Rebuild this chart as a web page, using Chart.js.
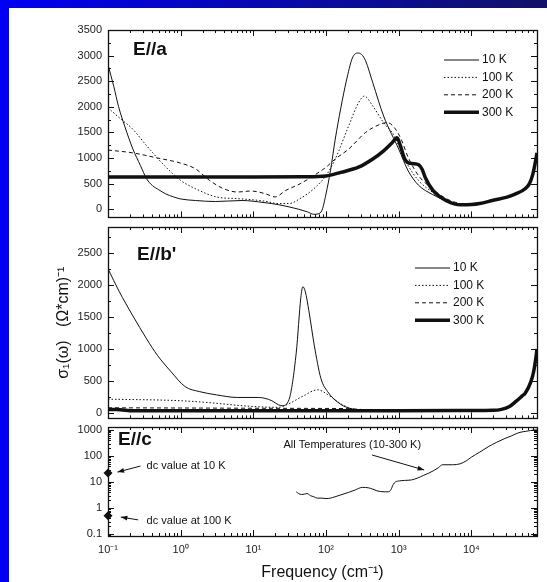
<!DOCTYPE html>
<html lang="en">
<head>
<meta charset="UTF-8">
<title>Optical conductivity</title>
<script src="https://cdn.jsdelivr.net/npm/chart.js"></script>
<style>
  body { margin: 0; width: 547px; height: 582px; background: #fff; position: relative; overflow: hidden; }
  canvas { position: absolute; left: 0; }
  #topbar { position: absolute; left: 0; top: 0; width: 547px; height: 8px; background: linear-gradient(to right, #0000f4, #121268); z-index: 2; }
  #leftbar { position: absolute; left: 0; top: 0; width: 9px; height: 582px; background: #0000f4; z-index: 2; }
</style>
</head>
<body>
<canvas id="panelA" width="547" height="230" style="top:0"></canvas>
<canvas id="panelB" width="547" height="229" style="top:202px"></canvas>
<canvas id="panelC" width="547" height="180" style="top:402px"></canvas>
<div id="topbar"></div>
<div id="leftbar"></div>

<script>
// ---- E//a ----
const freqA10 = [0.1, 0.12, 0.14, 0.17, 0.22, 0.28, 0.34, 0.41, 0.5, 0.62, 0.8, 1.0, 1.6, 3, 7, 14, 22, 30, 42, 55, 68, 78, 88, 100, 115, 134, 160, 190, 230, 270, 310, 350, 440, 620, 1000, 1350, 1870, 2900, 5000, 8000, 13000, 20000, 30000, 40000, 55000, 63000, 70000, 75000, 80000];
const sigA10 = [2820, 2400, 2000, 1620, 1175, 850, 594, 460, 380, 300, 240, 200, 170, 150, 170, 130, 90, 50, 0, -50, -100, -90, -20, 300, 750, 1370, 1980, 2500, 2950, 3050, 3020, 2900, 2470, 1820, 1175, 750, 470, 290, 140, 85, 110, 175, 230, 295, 400, 500, 680, 880, 1100];
const freqA100 = [0.1, 0.142, 0.22, 0.34, 0.6, 1, 1.6, 3.1, 6, 9.3, 14.6, 22, 31, 44, 68, 100, 134, 205, 280, 337, 440, 620, 870, 1000, 1350, 1870, 2900, 4500, 7000, 10000, 13000, 20000, 30000, 40000, 55000, 63000, 70000, 75000, 80000];
const sigA100 = [1980, 1790, 1560, 1240, 850, 562, 400, 240, 207, 187, 155, 110, 110, 207, 400, 658, 980, 1627, 2079, 2208, 2014, 1691, 1433, 1240, 852, 562, 336, 174, 100, 90, 110, 175, 230, 295, 400, 500, 680, 880, 1100];
const freqA200 = [0.1, 0.22, 0.48, 1, 1.6, 2.5, 3.9, 6, 9.3, 14.6, 20, 28, 44, 68, 100, 134, 205, 350, 560, 700, 870, 1080, 1350, 1870, 2900, 4500, 7000, 10000, 13000, 20000, 30000, 40000, 55000, 63000, 70000, 75000, 80000];
const sigA200 = [1155, 1100, 1000, 900, 788, 562, 400, 336, 355, 303, 240, 368, 497, 658, 820, 981, 1175, 1498, 1660, 1691, 1595, 1369, 1013, 658, 400, 207, 110, 90, 110, 175, 230, 295, 400, 500, 680, 880, 1100];
const freqA300 = [0.1, 1, 10, 50, 100, 160, 280, 440, 620, 800, 950, 1050, 1200, 1380, 1600, 1880, 2100, 2320, 3000, 4600, 7100, 10000, 13000, 20000, 30000, 40000, 55000, 63000, 70000, 75000, 80000];
const sigA300 = [630, 630, 630, 635, 650, 720, 820, 980, 1140, 1290, 1395, 1250, 990, 900, 890, 870, 780, 620, 356, 161, 85, 90, 110, 175, 230, 295, 400, 500, 680, 880, 1100];

// ---- E//b' ----
const freqB10 = [0.1, 0.142, 0.22, 0.34, 0.48, 0.74, 1.15, 1.8, 3.1, 6, 11.7, 18, 22, 25, 31, 39, 45, 48, 52, 58, 69, 85, 105, 150, 205, 350, 1000, 10000, 20000, 26000, 33000, 41000, 50000, 55000, 66000, 72000, 78000, 80000];
const sigB10 = [2250, 1900, 1516, 1158, 900, 645, 415, 338, 287, 246, 246, 195, 133, 118, 215, 953, 1800, 1970, 1890, 1600, 1055, 543, 338, 159, 82, 45, 40, 40, 45, 60, 100, 184, 270, 312, 492, 650, 900, 1000];
const freqB100 = [0.1, 1, 2.5, 7.5, 22, 31, 48, 77, 105, 165, 280, 1000, 10000, 20000, 26000, 33000, 41000, 50000, 55000, 66000, 72000, 78000, 80000];
const sigB100 = [220, 195, 165, 115, 92, 150, 266, 365, 292, 138, 45, 40, 40, 45, 60, 100, 184, 270, 312, 492, 650, 900, 1000];
const freqB200 = [0.1, 1, 10, 100, 200, 300, 500, 1000, 10000, 20000, 26000, 33000, 41000, 50000, 55000, 66000, 72000, 78000, 80000];
const sigB200 = [85, 82, 78, 75, 72, 60, 45, 40, 40, 45, 60, 100, 184, 270, 312, 492, 650, 900, 1000];
const freqB300 = [0.1, 0.13, 0.16, 0.2, 1, 10, 100, 1000, 10000, 20000, 26000, 33000, 41000, 50000, 55000, 66000, 72000, 78000, 80000];
const sigB300 = [60, 60, 50, 40, 40, 40, 40, 40, 42, 45, 60, 100, 184, 270, 312, 492, 650, 900, 1000];

// ---- E//c ----
const freqC = [39, 42, 46, 50, 55, 61, 68, 76, 88, 100, 115, 133, 160, 205, 250, 317, 380, 440, 500, 560, 640, 720, 780, 840, 900, 1020, 1200, 1500, 1800, 2200, 2600, 3000, 3500, 4000, 5500, 7000, 8500, 10000, 13000, 17000, 22000, 29000, 36000, 45000, 55000, 65000, 75000, 80000];
const sigC = [4.2, 3.6, 3.3, 3.4, 3.6, 3.0, 2.7, 2.4, 2.4, 2.3, 2.4, 2.7, 3.2, 4.0, 4.9, 6.2, 6.0, 5.3, 4.6, 4.3, 4.2, 4.2, 5.0, 8.0, 10, 11, 11.5, 12, 14, 18, 22, 27, 35, 46, 46, 50, 65, 90, 140, 225, 330, 473, 600, 790, 880, 950, 1000, 1000];
const dcFreq = [0.1, 0.1];
const dcSigma = [22, 0.5];

// axis ticks
const freqTicks = [0.1, 1, 10, 100, 1000, 10000];
const ticksA = [0, 500, 1000, 1500, 2000, 2500, 3000, 3500];
const ticksB = [0, 500, 1000, 1500, 2000, 2500];
const ticksC = [0.1, 1, 10, 100, 1000];
const temps = ['10 K', '100 K', '200 K', '300 K'];

const ink = '#111';
const FONT = "'Liberation Sans', Arial, Helvetica, sans-serif";
Chart.defaults.font.family = FONT;
Chart.defaults.color = '#222';

const lineLook = [
  { borderWidth: 1, borderDash: [] },
  { borderWidth: 1, borderDash: [1.5, 2] },
  { borderWidth: 1, borderDash: [4, 3] },
  { borderWidth: 3.5, borderDash: [] }
];

function pairs(xs, ys) {
  return xs.map((x, i) => ({ x: x, y: ys[i] }));
}

function series(i, xs, ys) {
  return Object.assign({
    label: temps[i],
    data: pairs(xs, ys),
    borderColor: ink,
    backgroundColor: ink,
    pointRadius: 0,
    fill: false,
    cubicInterpolationMode: 'monotone'
  }, lineLook[i]);
}

const SUP = { '-': '\u207B', '0': '\u2070', '1': '\u00B9', '2': '\u00B2', '3': '\u00B3', '4': '\u2074', '5': '\u2075' };
function powerLabel(v) {
  const e = Math.round(Math.log10(v));
  return '10' + String(e).split('').map(c => SUP[c]).join('');
}

function logSteps(min, max) {
  const major = [], minor = [];
  for (let e = Math.floor(Math.log10(min)); e <= Math.ceil(Math.log10(max)); e++) {
    for (let m = 1; m < 10; m++) {
      const v = m * Math.pow(10, e);
      if (v < min * 0.9999 || v > max * 1.0001) continue;
      (m === 1 ? major : minor).push(v);
    }
  }
  return { major, minor };
}

// closed frame with inward ticks on all four sides
const boxTicks = {
  id: 'boxTicks',
  afterDraw(chart, args, opts) {
    const { ctx, chartArea: a } = chart;
    const xs = chart.scales.x, ys = chart.scales.y;
    ctx.save();
    ctx.strokeStyle = ink;
    ctx.lineWidth = 1;
    ctx.beginPath();
    const xt = logSteps(xs.min, xs.max);
    const xTick = len => v => {
      const p = Math.round(xs.getPixelForValue(v)) + 0.5;
      ctx.moveTo(p, a.bottom); ctx.lineTo(p, a.bottom - len);
      ctx.moveTo(p, a.top); ctx.lineTo(p, a.top + len);
    };
    xt.major.forEach(xTick(6));
    xt.minor.forEach(xTick(3));
    let yt;
    if (ys.type === 'logarithmic') {
      yt = logSteps(ys.min, ys.max);
    } else {
      const step = opts.step;
      yt = { major: [], minor: [] };
      for (let v = Math.ceil(ys.min / step) * step; v <= ys.max; v += step) {
        (v % (2 * step) === 0 ? yt.major : yt.minor).push(v);
      }
    }
    const yTick = len => v => {
      const p = Math.round(ys.getPixelForValue(v)) + 0.5;
      ctx.moveTo(a.left, p); ctx.lineTo(a.left + len, p);
      ctx.moveTo(a.right, p); ctx.lineTo(a.right - len, p);
    };
    yt.major.forEach(yTick(6));
    yt.minor.forEach(yTick(3));
    ctx.stroke();
    ctx.lineWidth = 1.3;
    ctx.strokeRect(Math.round(a.left) + 0.5, Math.round(a.top) + 0.5, Math.round(a.width), Math.round(a.height));
    ctx.restore();
  }
};

function drawArrow(ctx, x0, y0, x1, y1) {
  const ang = Math.atan2(y1 - y0, x1 - x0);
  ctx.beginPath();
  ctx.moveTo(x0, y0);
  ctx.lineTo(x1, y1);
  ctx.stroke();
  ctx.beginPath();
  ctx.moveTo(x1, y1);
  ctx.lineTo(x1 - 7 * Math.cos(ang - 0.35), y1 - 7 * Math.sin(ang - 0.35));
  ctx.lineTo(x1 - 7 * Math.cos(ang + 0.35), y1 - 7 * Math.sin(ang + 0.35));
  ctx.closePath();
  ctx.fill();
}

// panel name, temperature key, notes and arrows
const decor = {
  id: 'decor',
  afterDraw(chart, args, opts) {
    const ctx = chart.ctx;
    const xs = chart.scales.x, ys = chart.scales.y;
    ctx.save();
    ctx.fillStyle = ink;
    ctx.strokeStyle = ink;
    if (opts.name) {
      ctx.font = 'bold 19px ' + FONT;
      ctx.textBaseline = 'middle';
      ctx.textAlign = 'left';
      ctx.fillText(opts.name.text, opts.name.x, opts.name.y);
    }
    if (opts.key) {
      const k = opts.key;
      ctx.font = '12px ' + FONT;
      ctx.textBaseline = 'middle';
      chart.data.datasets.forEach((ds, i) => {
        if (!ds.label) return;
        const y = k.y + i * k.dy;
        ctx.save();
        ctx.lineWidth = ds.borderWidth;
        ctx.setLineDash(ds.borderDash || []);
        ctx.beginPath();
        ctx.moveTo(k.x, y);
        ctx.lineTo(k.x + k.len, y);
        ctx.stroke();
        ctx.restore();
        ctx.fillText(ds.label, k.x + k.len + 3, y);
      });
    }
    if (opts.notes) {
      ctx.font = '11px ' + FONT;
      ctx.textBaseline = 'middle';
      opts.notes.forEach(n => {
        ctx.fillText(n.text, xs.getPixelForValue(n.x), ys.getPixelForValue(n.y));
      });
    }
    if (opts.arrows) {
      ctx.lineWidth = 1;
      opts.arrows.forEach(r => {
        drawArrow(ctx,
          xs.getPixelForValue(r.from[0]), ys.getPixelForValue(r.from[1]),
          xs.getPixelForValue(r.to[0]), ys.getPixelForValue(r.to[1]));
      });
    }
    ctx.restore();
  }
};

function freqAxis(show) {
  return {
    type: 'logarithmic',
    min: 0.1,
    max: 80000,
    bounds: 'data',
    display: show,
    grid: { display: false, drawTicks: false },
    border: { display: false },
    afterBuildTicks: s => { s.ticks = freqTicks.map(v => ({ value: v })); },
    afterFit: s => { s.height = show ? 46 : 0; },
    ticks: { callback: v => powerLabel(v), font: { size: 11 }, padding: 7, maxRotation: 0, autoSkip: false },
    title: { display: show, text: 'Frequency (cm\u207B\u00B9)', font: { size: 16 }, color: '#111', padding: { top: 0, bottom: 0 } }
  };
}

function sigmaAxis(type, min, max, ticks, title) {
  return {
    type: type,
    min: min,
    max: max,
    bounds: 'data',
    grid: { display: false, drawTicks: false },
    border: { display: false },
    afterBuildTicks: s => { s.ticks = ticks.map(v => ({ value: v })); },
    afterFit: s => { s.width = 98; },
    ticks: { callback: v => String(v), font: { size: 11 }, padding: 6, autoSkip: false },
    title: title ? { display: true, text: title, font: { size: 16 }, color: '#111', padding: { top: 44, bottom: 0 } } : { display: false }
  };
}

function panelOptions(padTop, padBottom, xShow, yAxis, tickStep, decorOpts) {
  return {
    responsive: false,
    animation: false,
    layout: { autoPadding: false, padding: { left: 10, right: 10, top: padTop, bottom: padBottom } },
    plugins: {
      legend: { display: false },
      tooltip: { enabled: false },
      boxTicks: { step: tickStep },
      decor: decorOpts
    },
    scales: { x: freqAxis(xShow), y: yAxis }
  };
}

new Chart(document.getElementById('panelA'), {
  type: 'line',
  data: {
    datasets: [
      series(0, freqA10, sigA10),
      series(1, freqA100, sigA100),
      series(2, freqA200, sigA200),
      series(3, freqA300, sigA300)
    ]
  },
  options: panelOptions(30, 12, false, sigmaAxis('linear', -160, 3500, ticksA), 250, {
    name: { text: 'E//a', x: 133, y: 50 },
    key: { x: 444, y: 60, dy: 17.4, len: 35 }
  }),
  plugins: [boxTicks, decor]
});

new Chart(document.getElementById('panelB'), {
  type: 'line',
  data: {
    datasets: [
      series(0, freqB10, sigB10),
      series(1, freqB100, sigB100),
      series(2, freqB200, sigB200),
      series(3, freqB300, sigB300)
    ]
  },
  options: panelOptions(25, 12, false, sigmaAxis('linear', -80, 2900, ticksB, '\u03C3\u2081(\u03C9)   (\u03A9*cm)\u207B\u00B9'), 250, {
    name: { text: "E//b'", x: 137, y: 53 },
    key: { x: 415, y: 66, dy: 17.4, len: 35 }
  }),
  plugins: [boxTicks, decor]
});

new Chart(document.getElementById('panelC'), {
  type: 'line',
  data: {
    datasets: [
      {
        data: pairs(freqC, sigC),
        borderColor: ink,
        borderWidth: 1,
        pointRadius: 0,
        fill: false,
        cubicInterpolationMode: 'monotone'
      },
      {
        data: pairs(dcFreq, dcSigma),
        showLine: false,
        pointStyle: 'rectRot',
        pointRadius: 4.5,
        pointBorderWidth: 0,
        pointBackgroundColor: ink,
        clip: false
      }
    ]
  },
  options: panelOptions(25, 0, true, sigmaAxis('logarithmic', 0.084, 1300, ticksC), 0, {
    name: { text: 'E//c', x: 118, y: 38 },
    notes: [
      { text: 'dc value at 10 K', x: 0.34, y: 40 },
      { text: 'dc value at 100 K', x: 0.34, y: 0.33 },
      { text: 'All Temperatures (10-300 K)', x: 26, y: 265 }
    ],
    arrows: [
      { from: [0.28, 41], to: [0.135, 24] },
      { from: [0.26, 0.35], to: [0.15, 0.45] },
      { from: [430, 109], to: [2240, 29] }
    ]
  }),
  plugins: [boxTicks, decor]
});
</script>
</body>
</html>
